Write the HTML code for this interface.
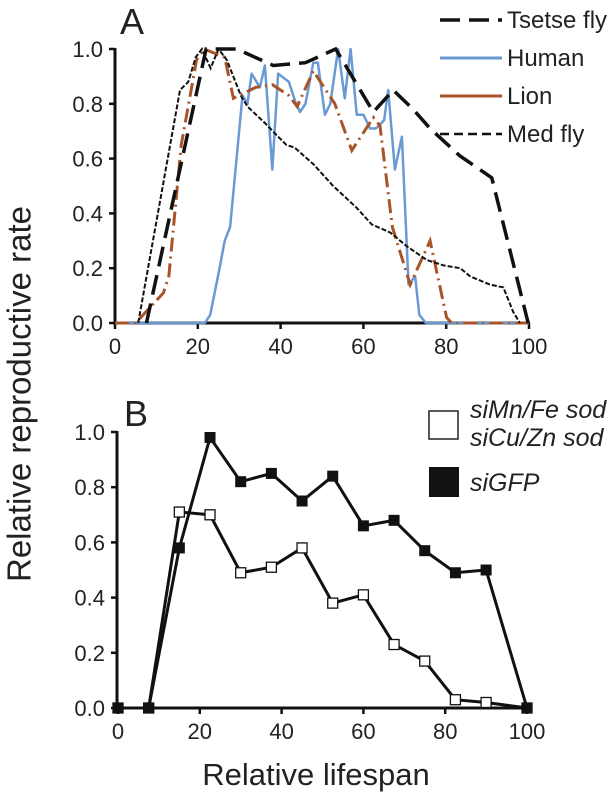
<!DOCTYPE html>
<html><head><meta charset="utf-8"><style>
html,body{margin:0;padding:0;background:#fff;}
svg{display:block;font-family:"Liberation Sans",Arial,sans-serif;}
</style></head><body>
<svg id="chart" width="616" height="797" viewBox="0 0 616 797" xmlns="http://www.w3.org/2000/svg">
<text x="22" y="394" font-size="33" fill="#222" text-anchor="middle" transform="rotate(-90 22 394)" dominant-baseline="middle">Relative reproductive rate</text>
<text x="316" y="785" font-size="31" fill="#222" text-anchor="middle">Relative lifespan</text>
<text x="120" y="34" font-size="36" fill="#222">A</text>
<text x="124" y="426" font-size="36" fill="#222">B</text>
<g id="gA"></g>
<g id="gB"></g>
<g>
 <g><line x1="440" y1="20" x2="502" y2="20" stroke="#111" stroke-width="3.5" stroke-dasharray="20,9"/><text x="507" y="28" font-size="24" fill="#222">Tsetse fly</text></g>
 <g><line x1="440" y1="58" x2="502" y2="58" stroke="#6a9ad3" stroke-width="3"/><text x="507" y="66" font-size="24" fill="#222">Human</text></g>
 <g><line x1="440" y1="96" x2="502" y2="96" stroke="#a85428" stroke-width="3"/><text x="507" y="104" font-size="24" fill="#222">Lion</text></g>
 <g><line x1="440" y1="134" x2="502" y2="134" stroke="#111" stroke-width="2.5" stroke-dasharray="9,5"/><text x="507" y="142" font-size="24" fill="#222">Med fly</text></g>
</g>
<g>
 <g><rect x="429" y="411" width="29" height="28" fill="#fff" stroke="#222" stroke-width="1.5"/>
 <text x="470" y="418" font-size="25" font-style="italic" fill="#222">siMn/Fe sod</text><text x="470" y="446" font-size="25" font-style="italic" fill="#222">siCu/Zn sod</text></g>
 <g><rect x="429" y="467" width="30" height="30" fill="#111"/><text x="470" y="491" font-size="25" font-style="italic" fill="#222">siGFP</text></g>
</g>
</svg>
<script>
const xTicks=[0,20,40,60,80,100];
const yTicks=[0,0.2,0.4,0.6,0.8,1.0];
const tsetseX=[7.6,22,29.4,38.2,46,53.3,62.4,67.2,72,76.1,83.3,91,99.8];
const tsetseY=[0,1.0,1.0,0.94,0.95,1.0,0.77,0.85,0.78,0.71,0.61,0.53,0];
const humanX=[0,21.7,23,25,26.5,27.8,30.8,32,33,35,36.2,38,39.4,42,43.5,44.7,46,47.9,49,50.7,52,53.9,55.5,56.9,58.4,60,61.6,63,65,66,67.6,69.3,70.9,72.5,73.5,75.1,100];
const humanY=[0,0,0.03,0.18,0.3,0.35,0.83,0.8,0.91,0.86,0.94,0.56,0.91,0.88,0.81,0.77,0.8,0.95,0.95,0.76,0.8,1.0,0.82,1.0,0.76,0.76,0.71,0.71,0.74,0.85,0.56,0.68,0.14,0.17,0.03,0,0];
const lionX=[0,5,11.7,13,16,19.7,21.5,26.5,28.6,34,38,42,44,47.9,53.1,57.2,62.4,64,67,71.3,76.1,80.1,81.3,100];
const lionY=[0,0,0.11,0.17,0.65,0.96,1.0,0.97,0.82,0.86,0.87,0.83,0.79,0.92,0.8,0.63,0.75,0.72,0.35,0.14,0.3,0.02,0,0];
const medX=[5.6,15.7,17.7,19.5,21,23.1,25,27,30.4,32,36.2,39.4,41.4,43.4,47.9,52.7,58.4,62,66.5,70.5,75.3,79.4,83.4,85.8,90.6,93.8,96.2,97.8];
const medY=[0,0.85,0.88,0.97,1.0,0.93,1.0,0.96,0.83,0.79,0.73,0.68,0.65,0.64,0.58,0.5,0.42,0.36,0.33,0.28,0.23,0.21,0.2,0.17,0.14,0.13,0.04,0];
const bX=[0,7.5,15,22.5,30,37.5,45,52.5,60,67.5,75,82.5,90,100];
const gfpY=[0,0,0.58,0.98,0.82,0.85,0.75,0.84,0.66,0.68,0.57,0.49,0.50,0];
const sodY=[0,0,0.71,0.70,0.49,0.51,0.58,0.38,0.41,0.23,0.17,0.03,0.02,0];

const NS="http://www.w3.org/2000/svg";
function mk(p,t,a){const e=document.createElementNS(NS,t);for(const k in a)e.setAttribute(k,a[k]);p.appendChild(e);return e;}
function panel(g,x0,x1,y0,y1,axX){
  const sx=v=>x0+(x1-x0)*v/100, sy=v=>y0+(y1-y0)*v;
  const ya=mk(g,'line',{x1:axX,y1:sy(0)+2,x2:axX,y2:sy(1)-1,stroke:'#111','stroke-width':3});
  
  
  const xa=mk(g,'line',{x1:axX,y1:sy(0),x2:sx(100)+1,y2:sy(0),stroke:'#111','stroke-width':3});
  
  
  yTicks.forEach(v=>{
    mk(g,'line',{x1:axX-6,y1:sy(v),x2:axX,y2:sy(v),stroke:'#111','stroke-width':2.5});
    const t=mk(g,'text',{x:axX-12,y:sy(v)+8,'font-size':22,'text-anchor':'end',fill:'#222'});
    t.textContent=v.toFixed(1);
    
    
  });
  xTicks.forEach(v=>{
    mk(g,'line',{x1:sx(v),y1:sy(0),x2:sx(v),y2:sy(0)+6,stroke:'#111','stroke-width':2.5});
    const t=mk(g,'text',{x:sx(v),y:sy(0)+31,'font-size':22,'text-anchor':'middle',fill:'#222'});
    t.textContent=v;
    
    
  });
  return {sx,sy};
}
function line(g,s,X,Y,attrs,name){
  const p=mk(g,'polyline',Object.assign({fill:'none',points:X.map((x,i)=>s.sx(x)+','+s.sy(Y[i])).join(' ')},attrs));
  
  
}
const gA=document.getElementById('gA');
const sA=panel(gA,115,529,323,49,115);
line(gA,sA,humanX,humanY,{stroke:'#6a9ad3','stroke-width':2.5,'stroke-linejoin':'round'},'human-line');
line(gA,sA,lionX,lionY,{stroke:'#a85428','stroke-width':3,'stroke-dasharray':'14,5,2,5'},'lion-line');
line(gA,sA,medX,medY,{stroke:'#111','stroke-width':2,'stroke-dasharray':'5,2'},'medfly-line');
line(gA,sA,tsetseX,tsetseY,{stroke:'#111','stroke-width':3.5,'stroke-dasharray':'20,9'},'tsetse-line');
const gB=document.getElementById('gB');
const sB=panel(gB,118,527,708,432,117);
line(gB,sB,bX,sodY,{stroke:'#111','stroke-width':3},'sod-line');
line(gB,sB,bX,gfpY,{stroke:'#111','stroke-width':3},'sigfp-line');
bX.forEach((x,i)=>{
  const r=mk(gB,'rect',{x:sB.sx(x)-5,y:sB.sy(sodY[i])-5,width:10,height:10,fill:'#fff',stroke:'#111','stroke-width':1.3});
  
  
});
bX.forEach((x,i)=>{
  const r=mk(gB,'rect',{x:sB.sx(x)-5.5,y:sB.sy(gfpY[i])-5.5,width:11,height:11,fill:'#111'});
  
  
});
</script>
</body></html>
